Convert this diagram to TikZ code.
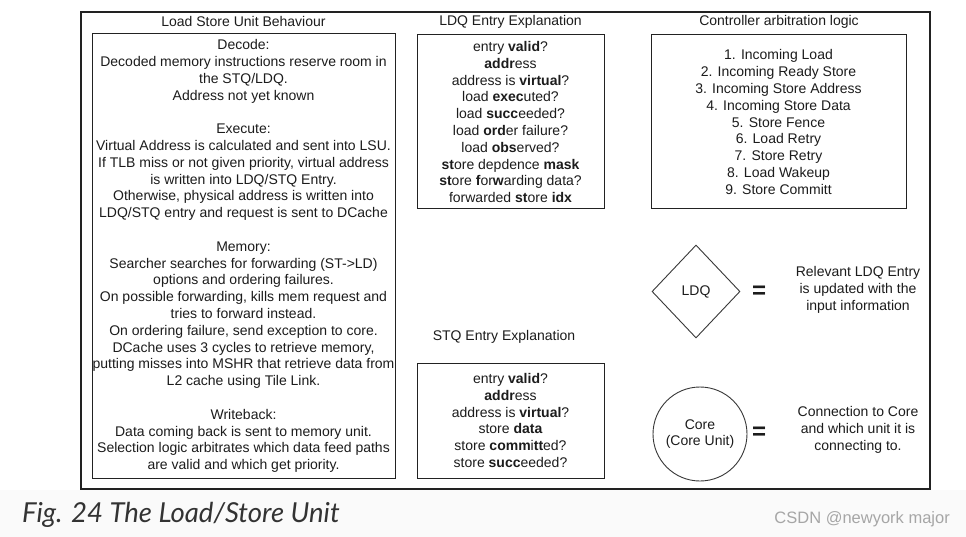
\documentclass[tikz,border=0pt]{standalone}
\usepackage{fontspec}
\setmainfont{Liberation Sans}
\newfontfamily\capfont{Lato}
\usetikzlibrary{shapes.geometric}
\definecolor{band}{HTML}{FAFAFA}
\definecolor{wmcol}{HTML}{A6A6A6}
\definecolor{txt}{HTML}{1C1C1C}
\definecolor{capcol}{HTML}{333333}
\definecolor{edge}{HTML}{222222}
\begin{document}
\begin{tikzpicture}[x=1pt,y=-1pt,
  frame/.style={draw=edge, line width=1.1pt, inner sep=0pt},
  box/.style={draw=edge, line width=1pt, inner sep=0pt, align=center, text=txt,
    font=\fontsize{14pt}{16.8pt}\selectfont},
  title/.style={inner sep=0pt, text=txt, font=\fontsize{14pt}{16.8pt}\selectfont},
  plain/.style={inner sep=0pt, align=center, text=txt, font=\fontsize{14pt}{16.8pt}\selectfont},
  eqsign/.style={inner sep=0pt, text=txt, font=\bfseries\fontsize{24pt}{24pt}\selectfont},
  symb/.style={draw=edge!90, line width=0.9pt, inner sep=0pt, align=center, text=txt,
    font=\fontsize{14pt}{16.8pt}\selectfont}]
\useasboundingbox (0,0) rectangle (966,537);
\fill[white] (0,0) rectangle (966,490);
\fill[band] (0,490) rectangle (966,537);

% outer frame
\node[frame, minimum width=849pt, minimum height=477pt] (outer) at (505.5,250.5) {};

% titles
\node[title] (t1) at (243.5,22) {Load Store Unit Behaviour};
\node[title] (t2) at (510.5,22) {LDQ Entry Explanation};
\node[title] (t3) at (779,22) {Controller arbitration logic};
\node[title] (t4) at (504,337) {STQ Entry Explanation};

% left box
\node[box, minimum width=303pt, minimum height=444pt] (lsu) at (243.5,256) {%
Decode:\\
Decoded memory instructions reserve room in\\
the STQ/LDQ.\\
Address not yet known\\[16.8pt]
Execute:\\
Virtual Address is calculated and sent into LSU.\\
If TLB miss or not given priority, virtual address\\
is written into LDQ/STQ Entry.\\
Otherwise, physical address is written into\\
LDQ/STQ entry and request is sent to DCache\\[16.8pt]
Memory:\\
Searcher searches for forwarding (ST->LD)\\
options and ordering failures.\\
On possible forwarding, kills mem request and\\
tries to forward instead.\\
On ordering failure, send exception to core.\\
DCache uses 3 cycles to retrieve memory,\\
putting misses into MSHR that retrieve data from\\
L2 cache using Tile Link.\\[16.8pt]
Writeback:\\
Data coming back is sent to memory unit.\\
Selection logic arbitrates which data feed paths\\
are valid and which get priority.};

% LDQ box
\node[box, minimum width=187pt, minimum height=174pt] (ldq) at (510.5,122) {%
entry \textbf{valid}?\\
\textbf{addr}ess\\
address is \textbf{virtual}?\\
load \textbf{exec}uted?\\
load \textbf{succ}eeded?\\
load \textbf{ord}er failure?\\
load \textbf{obs}erved?\\
\textbf{st}ore depdence \textbf{mask}\\
\textbf{st}ore \textbf{f}or\textbf{w}arding data?\\
forwarded \textbf{st}ore \textbf{idx}};

% controller box
\node[box, minimum width=255pt, minimum height=174pt] (ctrl) at (778.5,122) {%
1. Incoming Load\\
2. Incoming Ready Store\\
3. Incoming Store Address\\
4. Incoming Store Data\\
5. Store Fence\\
6. Load Retry\\
7. Store Retry\\
8. Load Wakeup\\
9. Store Committ};

% STQ box
\node[box, minimum width=187pt, minimum height=115pt] (stq) at (510.5,420.5) {%
entry \textbf{valid}?\\
\textbf{addr}ess\\
address is \textbf{virtual}?\\
store \textbf{data}\\
store \textbf{comm}i\textbf{tt}ed?\\
store \textbf{succ}eeded?};

% legend
\node[symb, diamond, minimum width=88pt, minimum height=93pt] (dia) at (696,291.5) {LDQ};
\node[eqsign] (eq1) at (759,292) {=};
\node[plain] (ex1) at (858,290) {Relevant LDQ Entry\\is updated with the\\input information};

\node[symb, circle, minimum size=94pt] (core) at (700,434) {Core\\(Core Unit)};
\node[eqsign] (eq2) at (759,433) {=};
\node[plain] (ex2) at (858,430) {Connection to Core\\and which unit it is\\connecting to.};

% caption
\node[anchor=base west, inner sep=0pt, text=capcol,
  font=\capfont\itshape\fontsize{27.5pt}{33pt}\selectfont] (cap) at (22,522) {Fig. 24 The Load/Store Unit};
\node[anchor=base east, inner sep=0pt, text=wmcol,
  font=\fontsize{16.5pt}{20pt}\selectfont] (wm) at (950,523) {CSDN @newyork major};
\end{tikzpicture}
\end{document}
